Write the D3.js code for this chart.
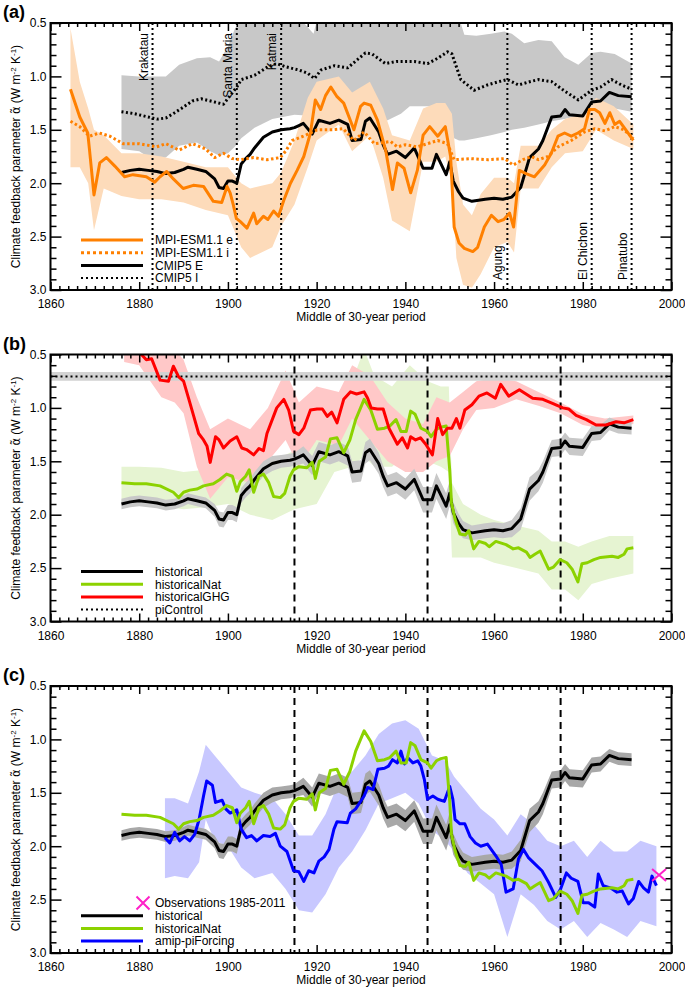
<!DOCTYPE html>
<html><head><meta charset="utf-8">
<script src="https://cdn.jsdelivr.net/npm/d3@7"></script>
<style>body{margin:0;background:#fff}svg{display:block}</style>
</head><body><svg id="c" width="685" height="989"></svg>
<script>
// ---------------- DATA ----------------
// CMIP5 E / historical (ensemble mean)
const histYears=[1876,1878,1880,1882,1884,1886,1888,1890,1891,1893,1895,1897,1898,1899,1900,1901,1902,1903,1904,1905,1906,1908,1910,1912,1914,1915,1916,1917,1919,1920.5,1923,1925,1927,1928,1930,1931,1932,1934,1935,1936,1938,1940,1942,1944,1946,1947,1949.2,1950,1950.8,1952,1953,1955,1958,1960,1962,1964,1966,1968,1970,1971,1973,1975,1976,1977,1980,1982,1984,1986,1988,1991];
const histVals=[1.90,1.88,1.87,1.88,1.89,1.91,1.90,1.87,1.85,1.87,1.89,1.96,2.04,2.05,1.98,1.98,2.00,1.82,1.77,1.73,1.67,1.57,1.52,1.50,1.49,1.48,1.46,1.44,1.54,1.41,1.44,1.41,1.45,1.60,1.59,1.42,1.39,1.52,1.64,1.73,1.70,1.76,1.67,1.86,1.86,1.73,1.92,1.80,1.98,2.08,2.14,2.17,2.15,2.14,2.15,2.13,2.04,1.76,1.68,1.60,1.38,1.37,1.31,1.36,1.37,1.24,1.23,1.15,1.18,1.19];
const histHalf=[0.05,0.05,0.05,0.05,0.05,0.05,0.05,0.05,0.05,0.05,0.05,0.06,0.07,0.07,0.07,0.07,0.07,0.07,0.07,0.07,0.07,0.07,0.07,0.06,0.06,0.06,0.07,0.08,0.09,0.09,0.09,0.09,0.09,0.1,0.1,0.1,0.1,0.1,0.1,0.1,0.1,0.1,0.1,0.12,0.12,0.12,0.12,0.12,0.1,0.09,0.08,0.07,0.07,0.07,0.07,0.08,0.1,0.11,0.1,0.1,0.08,0.08,0.08,0.08,0.08,0.07,0.07,0.06,0.06,0.06];
// CMIP5 I
const cmipIYears=[1876,1879,1882,1884,1886,1888,1889.5,1892,1894,1897,1899,1900.5,1902,1903,1906,1909,1911,1913,1916,1918,1919.5,1921,1924,1927,1929,1931,1932.5,1935.5,1938,1942,1945,1947.3,1949.5,1950.5,1952.5,1955.5,1958.5,1961,1963,1965.5,1968,1970,1973,1976,1979,1982,1984,1986.5,1988.7,1991];
const cmipIVals=[1.33,1.35,1.38,1.40,1.39,1.34,1.30,1.23,1.21,1.24,1.26,1.18,1.10,1.03,0.99,0.91,0.88,0.91,0.94,0.97,1.02,0.94,0.90,0.92,0.85,0.78,0.79,0.88,0.86,0.86,0.88,0.83,0.77,0.79,1.03,1.13,1.08,1.05,1.03,1.08,1.05,1.03,1.05,1.14,1.22,1.13,1.10,1.03,1.08,1.12];
const cmipIBandYears=[1876,1880,1883,1886,1889,1893,1896,1898,1900,1901.5,1903,1906,1910,1915,1919.3,1920.5,1925,1930,1936,1939,1941,1948,1949.5,1951,1952.1,1953.3,1956,1959.3,1962.3,1964,1966.8,1970,1973,1975.9,1979,1982,1984,1987.2,1991];
const cmipIBandTop=[0.99,1.00,1.00,1.00,0.89,0.83,0.82,0.86,0.72,0.56,0.45,0.4,0.4,0.4,0.6,0.4,0.4,0.4,0.4,0.4,0.4,0.4,0.4,0.4,0.45,0.61,0.62,0.60,0.58,0.60,0.69,0.66,0.67,0.82,0.89,0.78,0.77,0.79,0.88];
const cmipIBandBot=[1.68,1.70,1.78,1.76,1.65,1.62,1.70,1.74,1.72,1.66,1.58,1.48,1.40,1.36,1.37,1.38,1.38,1.40,1.41,1.35,1.28,1.28,1.45,1.58,1.60,1.60,1.58,1.55,1.52,1.50,1.48,1.45,1.42,1.40,1.37,1.33,1.27,1.30,1.33];
// MPI-ESM1.1 e
const mpiEYears=[1864.5,1866.6,1868.4,1868.8,1869.8,1871.1,1872.6,1874.5,1876.7,1878.6,1881.6,1883.5,1884.7,1886.2,1887.7,1889.9,1892.2,1894.5,1896.7,1898.6,1899.8,1900.5,1901.2,1901.9,1902.8,1904.3,1905.8,1906.5,1908,1909,1910.3,1911.4,1912.6,1914.1,1915.6,1917.1,1918.6,1919.7,1920.9,1922,1923.2,1924.6,1926.1,1928.4,1929.9,1930.7,1932.2,1933.7,1935.6,1937.1,1938.2,1939.7,1941.2,1942.7,1944,1945.5,1947.3,1949,1950.2,1951,1952.1,1953.3,1955.2,1956.3,1957.8,1959.4,1960.9,1962.2,1963.5,1964.4,1965.7,1967.2,1969.1,1971.4,1972.9,1974.4,1975.9,1977.4,1978.9,1980.4,1981.5,1982.7,1983.8,1985,1986.1,1987.2,1988.3,1989.5,1991.4];
const mpiEVals=[1.12,1.38,1.53,1.69,2.11,1.81,1.76,1.84,1.94,1.92,1.94,1.99,1.94,1.89,1.96,2.05,2.02,2.03,2.17,2.18,2.03,2.09,2.20,2.33,2.36,2.42,2.28,2.38,2.31,2.34,2.26,2.31,2.16,2.00,1.88,1.75,1.53,1.22,1.31,1.18,1.10,1.19,1.25,1.50,1.28,1.25,1.27,1.41,1.70,2.06,1.81,1.86,2.09,1.88,1.55,1.47,1.56,1.47,1.75,2.41,2.56,2.61,2.64,2.60,2.41,2.30,2.36,2.34,2.28,2.41,1.88,1.91,1.94,1.83,1.72,1.56,1.53,1.56,1.53,1.49,1.31,1.31,1.34,1.44,1.34,1.45,1.42,1.49,1.60];
const mpiEBandYears=[1864.5,1866.6,1868.5,1869.8,1872,1876,1880,1885,1890,1895,1900,1903,1905,1910,1912,1915,1918,1920,1925,1928,1932,1935,1937,1941,1944,1947,1949,1950.5,1951.5,1953,1955,1957,1960,1963,1964.5,1966,1970,1973,1976,1980,1983,1987,1991.4];
const mpiEBandLo=[0.55,1.05,1.30,1.50,1.55,1.72,1.72,1.75,1.80,1.85,1.85,2.0,2.05,2.0,1.9,1.6,1.2,1.05,1.0,1.15,1.05,1.3,1.55,1.6,1.3,1.25,1.25,1.35,1.8,2.2,2.3,2.1,1.95,1.95,2.0,1.65,1.65,1.5,1.4,1.35,1.2,1.28,1.45];
const mpiEBandHi=[1.85,1.85,2.0,2.44,2.05,2.12,2.15,2.15,2.18,2.25,2.3,2.6,2.7,2.6,2.4,2.2,1.85,1.6,1.45,1.7,1.55,1.95,2.35,2.45,1.8,1.8,1.75,2.0,2.7,2.95,2.98,2.85,2.6,2.55,2.65,2.05,2.05,1.85,1.72,1.7,1.5,1.6,1.68];
// MPI-ESM1.1 i
const mpiIYears=[1864.5,1866.6,1868.8,1871,1873.4,1876.4,1880,1883.9,1886,1889,1892,1895,1897,1899,1901,1902.8,1905.8,1908.8,1911.8,1913,1914.5,1917,1920.1,1923.1,1926,1928.4,1930.7,1933,1936.7,1938.2,1940,1942.7,1945,1947.3,1949.5,1951,1954.8,1958.6,1962.4,1964.3,1966.5,1968.4,1970,1972.1,1974.4,1977.4,1980.4,1982.7,1985,1987.2,1989.3,1991.4];
const mpiIVals=[1.42,1.47,1.56,1.53,1.56,1.63,1.63,1.66,1.63,1.69,1.63,1.68,1.76,1.72,1.77,1.78,1.76,1.78,1.76,1.70,1.60,1.56,1.50,1.50,1.49,1.60,1.52,1.63,1.61,1.66,1.64,1.66,1.63,1.60,1.63,1.78,1.77,1.78,1.77,1.83,1.78,1.75,1.78,1.75,1.66,1.60,1.52,1.49,1.51,1.47,1.50,1.58];
// historicalGHG
const ghgYears=[1876.6,1878.5,1880.5,1881.6,1882.8,1884.7,1886.6,1887.7,1888.9,1890,1891.2,1892.3,1893.4,1894.5,1895.3,1896,1897.2,1898,1899,1900.5,1902,1903.1,1904.2,1905.8,1907,1908,1908.8,1911,1912.6,1913.7,1914.8,1916,1917.1,1918.6,1920.1,1921.3,1922.4,1923.4,1924.6,1926.1,1927.6,1929,1930.7,1931.5,1932.3,1933.7,1935,1936.3,1938.2,1939.3,1940.5,1941.2,1942.3,1943.4,1944.6,1946.1,1947.3,1948.4,1949.5,1950.5,1951.5,1952.3,1953.4,1955,1956.6,1958.4,1960.3,1961.5,1963.3,1965.7,1968.7,1971,1973.3,1975.5,1976.8,1978.5,1980.8,1983,1985.2,1987.5,1989.3,1991.4];
const ghgVals=[0.35,0.40,0.50,0.55,0.54,0.74,0.75,0.61,0.71,0.75,0.92,1.08,1.24,1.30,1.36,1.51,1.27,1.30,1.375,1.31,1.27,1.375,1.39,1.44,1.38,1.40,1.24,1.00,0.92,1.02,1.22,1.25,1.19,1.02,1.01,1.01,1.08,1.04,1.14,0.92,0.85,0.87,0.85,0.91,1.00,1.01,1.01,1.19,1.34,1.28,1.375,1.27,1.30,1.28,1.34,1.44,1.10,1.25,1.19,1.19,1.10,1.19,1.02,0.97,0.89,0.86,0.91,0.78,0.89,0.83,0.91,0.92,0.96,1.00,1.01,1.07,1.11,1.16,1.16,1.13,1.14,1.11];
const ghgBandYears=[1876.6,1880,1885,1888,1890,1893,1896,1900,1905,1909,1913,1916,1920,1925,1928,1932,1936,1940,1944,1947,1950,1953,1956,1960,1965,1970,1975,1980,1985,1991.4];
const ghgBandLo=[0.3,0.3,0.45,0.45,0.55,0.9,1.2,1.1,1.2,1.0,0.65,0.95,0.8,0.85,0.6,0.7,0.95,1.1,1.15,0.9,0.95,0.85,0.75,0.72,0.75,0.85,0.95,1.06,1.1,1.07];
const ghgBandHi=[0.57,0.6,0.9,0.95,1.05,1.55,1.85,1.65,1.7,1.5,1.3,1.55,1.3,1.35,1.1,1.3,1.5,1.6,1.6,1.5,1.45,1.2,1.02,1.0,0.92,0.98,1.05,1.16,1.2,1.15];
// historicalNat
const natYears=[1876,1879,1881.6,1884.7,1887.7,1888.9,1890,1891.4,1893,1894.5,1896.7,1898.2,1899.7,1901,1902,1902.8,1904,1904.8,1905.8,1907,1908,1909.2,1910.3,1911.8,1912.8,1914,1914.8,1916,1917.8,1919,1919.7,1920.6,1922,1923.1,1924.6,1926.1,1927.5,1928.8,1930.7,1932.2,1933.7,1935.3,1936.5,1937.9,1939,1940.2,1941.2,1942.2,1943.5,1945,1945.8,1947,1948,1949.2,1950,1950.4,1951.2,1952.3,1953.5,1954.3,1955.4,1956.6,1958.1,1958.9,1960.4,1962.7,1964.3,1965.5,1967.3,1968.1,1969.2,1970.4,1972.3,1973.4,1974.9,1976.4,1977.6,1978.9,1979.8,1981,1982.5,1984,1986.6,1988,1989.3,1990,1991.4];
const natVals=[1.70,1.71,1.71,1.73,1.79,1.84,1.79,1.77,1.76,1.73,1.71,1.67,1.62,1.64,1.78,1.69,1.64,1.58,1.79,1.64,1.62,1.70,1.83,1.84,1.80,1.64,1.58,1.55,1.56,1.51,1.66,1.50,1.46,1.29,1.28,1.42,1.30,1.11,0.92,1.02,1.20,1.19,1.17,1.11,1.22,1.22,1.03,1.06,1.19,1.22,1.27,1.20,1.18,1.17,1.58,1.89,2.04,2.18,2.19,2.15,2.32,2.25,2.27,2.30,2.25,2.28,2.32,2.31,2.35,2.40,2.37,2.34,2.51,2.49,2.42,2.45,2.51,2.63,2.46,2.45,2.42,2.40,2.39,2.40,2.37,2.32,2.31];
const natBandYears=[1876,1880,1885,1890,1895,1900,1905,1910,1915,1920,1924,1928,1930.7,1933,1937,1941,1945,1948,1949.8,1950.5,1953,1957,1960,1965,1970,1973,1976,1979,1982,1986,1991.4];
const natBandLo=[1.55,1.55,1.56,1.6,1.58,1.5,1.45,1.5,1.4,1.3,1.05,0.75,0.45,0.7,0.8,0.6,0.75,0.8,0.8,1.7,1.9,2.0,2.05,2.1,2.15,2.25,2.25,2.3,2.25,2.2,2.2];
const natBandHi=[1.88,1.9,1.92,1.95,1.93,1.9,2.0,2.05,1.95,1.9,1.6,1.55,1.45,1.55,1.55,1.4,1.5,1.55,1.6,2.4,2.4,2.4,2.45,2.5,2.55,2.7,2.7,2.8,2.65,2.6,2.55];
// amip-piForcing
const amipYears=[1885.8,1886.9,1888,1889.1,1890.2,1891.4,1892.5,1893.5,1894.5,1895.2,1896.5,1897.2,1898.7,1899.5,1900.5,1902,1903,1904.2,1905.3,1906.5,1908,1909.5,1910.7,1911.8,1913.3,1914.8,1916,1917.1,1918.2,1919.4,1920.5,1921.7,1922.8,1923.9,1924.6,1926.9,1927.6,1928.8,1930.7,1931.5,1932.7,1933.8,1935.3,1936.2,1937.1,1938.2,1939,1939.8,1940.5,1941.7,1942.8,1943.5,1944.3,1945,1946.2,1947.3,1948.8,1950,1950.7,1951.2,1952.3,1953.4,1954.6,1955.8,1957,1958.5,1960.4,1961.6,1962.7,1964.3,1965.5,1966.6,1967.8,1969.3,1970.8,1972.3,1973.9,1975,1976.3,1977.4,1978.9,1980.1,1981.3,1982.7,1983.5,1984.6,1986.2,1987.7,1988.9,1990.3,1991.4,1992.6,1993.7,1994.8,1995.6,1996.6];
const amipVals=[1.92,1.97,1.87,1.95,1.91,1.95,1.89,1.75,1.53,1.39,1.43,1.59,1.57,1.65,1.69,1.66,1.84,1.92,1.90,1.95,1.90,1.91,1.88,2.00,2.05,2.23,2.24,2.33,2.23,2.25,2.14,2.10,2.03,1.84,1.77,1.78,1.69,1.65,1.53,1.45,1.47,1.28,1.27,1.25,1.19,1.22,1.11,1.23,1.17,1.22,1.20,1.25,1.38,1.56,1.53,1.56,1.58,1.44,1.56,1.75,1.79,1.79,1.91,1.97,2.00,1.98,2.09,2.17,2.43,2.40,2.12,2.03,2.11,2.17,2.23,2.34,2.48,2.40,2.25,2.30,2.33,2.53,2.53,2.57,2.26,2.37,2.39,2.43,2.42,2.54,2.49,2.33,2.39,2.43,2.28,2.37];
const amipBandYears=[1885.8,1888,1891,1893.5,1895,1897,1900,1903,1906,1910,1913,1916,1919,1922,1925,1928,1931,1934,1937,1940,1943,1946,1949,1951,1954,1957,1960,1963,1966,1969,1972,1975,1978,1981,1984,1987,1990,1993,1996.6];
const amipBandLo=[1.55,1.55,1.6,1.3,1.05,1.15,1.3,1.45,1.5,1.55,1.7,1.9,1.9,1.7,1.4,1.3,1.15,0.95,0.85,0.82,0.9,1.15,1.2,1.35,1.5,1.65,1.75,1.9,1.7,1.8,1.95,2.0,1.95,2.1,1.95,2.05,2.05,1.95,2.0];
const amipBandHi=[2.3,2.28,2.3,2.15,1.75,1.95,2.0,2.2,2.3,2.25,2.4,2.6,2.62,2.45,2.2,2.05,1.85,1.6,1.55,1.5,1.6,1.85,1.95,2.05,2.25,2.35,2.45,2.85,2.45,2.55,2.7,2.78,2.7,2.85,2.72,2.78,2.85,2.7,2.75];
// piControl
const piControlVal=0.705, piControlLo=0.665, piControlHi=0.745;
// observations 1985-2011
const obsPoint=[1997.2,2.27];
// volcanoes and period markers
const volcanoYears=[1883,1902,1912,1963,1982,1991];
const volcanoNames=["Krakatau","Santa Maria","Katmai","Agung","El Chichon","Pinatubo"];
const periodMarks=[1915,1945,1975];
// axis ticks
const xMajor=[1860,1880,1900,1920,1940,1960,1980,2000];
const yMajor=[0.5,1.0,1.5,2.0,2.5,3.0];

// ---------------- LAYOUT ----------------
const FONT='"Liberation Sans", Arial, Helvetica, sans-serif';
const X0=50.5, X1=671.5, PH=267;
const tops=[23,354.5,686];
const x=d3.scaleLinear().domain([1860,2000]).range([X0,X1]);
const yS=top=>d3.scaleLinear().domain([0.5,3.0]).range([top,top+PH]);
const svg=d3.select('#c').attr('font-family',FONT);
const defs=svg.append('defs');
tops.forEach((t,i)=>defs.append('clipPath').attr('id','clip'+i).append('rect').attr('x',X0).attr('y',t).attr('width',X1-X0).attr('height',PH));
const zip=(a,b)=>a.map((d,i)=>[d,b[i]]);
const zip3=(a,b,c)=>a.map((d,i)=>[d,b[i],c[i]]);

function lineG(y){return d3.line().x(d=>x(d[0])).y(d=>y(d[1]));}
function areaG(y){return d3.area().x(d=>x(d[0])).y0(d=>y(d[1])).y1(d=>y(d[2]));}

function drawLine(g,y,data,color,w,dash){
  const p=g.append('path').attr('d',lineG(y)(data)).attr('fill','none').attr('stroke',color).attr('stroke-width',w).attr('stroke-linejoin','round');
  if(dash)p.attr('stroke-dasharray',dash);
  return p;
}
function drawArea(g,y,data,color){
  g.append('path').attr('d',areaG(y)(data)).attr('fill',color).attr('stroke','none');
}
function vlines(g,y,top,years,dash,w){
  years.forEach(v=>g.append('line').attr('x1',x(v)).attr('x2',x(v)).attr('y1',top).attr('y2',top+PH).attr('stroke','#000').attr('stroke-width',w).attr('stroke-dasharray',dash));
}

function axes(top){
  const y=yS(top), bottom=top+PH;
  const xMinor=d3.range(1862,2000,2).filter(v=>v%20!==0);
  const yMinor=d3.range(6,30).filter(v=>v%5!==0).map(v=>v/10);
  const g=svg.append('g');
  const st=s=>{s.select('.domain').remove();s.attr('font-size',12).attr('font-family',FONT);s.selectAll('line').attr('stroke-width',1.5);s.selectAll('text').attr('fill','#000');};
  g.append('g').attr('transform',`translate(0,${bottom})`).call(d3.axisBottom(x).tickValues(xMajor).tickSize(-8).tickPadding(9.5).tickFormat(d3.format('d'))).call(st);
  g.append('g').attr('transform',`translate(0,${bottom})`).call(d3.axisBottom(x).tickValues(xMinor).tickSize(-4).tickFormat('')).call(st);
  g.append('g').attr('transform',`translate(0,${top})`).call(d3.axisTop(x).tickValues(xMajor).tickSize(-8).tickFormat('')).call(st);
  g.append('g').attr('transform',`translate(0,${top})`).call(d3.axisTop(x).tickValues(xMinor).tickSize(-4).tickFormat('')).call(st);
  g.append('g').attr('transform',`translate(${X0},0)`).call(d3.axisLeft(y).tickValues(yMajor).tickSize(-11).tickPadding(4).tickFormat(d3.format('.1f'))).call(st);
  g.append('g').attr('transform',`translate(${X0},0)`).call(d3.axisLeft(y).tickValues(yMinor).tickSize(-6).tickFormat('')).call(st);
  g.append('g').attr('transform',`translate(${X1},0)`).call(d3.axisRight(y).tickValues(yMajor).tickSize(-11).tickFormat('')).call(st);
  g.append('g').attr('transform',`translate(${X1},0)`).call(d3.axisRight(y).tickValues(yMinor).tickSize(-6).tickFormat('')).call(st);
  g.append('rect').attr('x',X0).attr('y',top).attr('width',X1-X0).attr('height',PH).attr('fill','none').attr('stroke','#000').attr('stroke-width',2);
  // y label
  const yl=svg.append('text').attr('transform',`translate(20,${top+PH/2}) rotate(-90)`).attr('text-anchor','middle').attr('font-size',12).attr('fill','#000');
  yl.append('tspan').text('Climate feedback parameter ');
  yl.append('tspan').attr('font-family','"DejaVu Sans", sans-serif').attr('font-size',11.5).text('α\u0303');
  yl.append('tspan').text(' (W m');
  yl.append('tspan').attr('dy',-4.5).attr('font-size',8).text('-2');
  yl.append('tspan').attr('dy',4.5).text(' K');
  yl.append('tspan').attr('dy',-4.5).attr('font-size',8).text('-1');
  yl.append('tspan').attr('dy',4.5).text(')');
  // x title
  svg.append('text').attr('x',(X0+X1)/2).attr('y',bottom+31).attr('text-anchor','middle').attr('font-size',12).text('Middle of 30-year period');
}
function panelLabel(top,s){
  svg.append('text').attr('x',3).attr('y',top-5).attr('font-size',18).attr('font-weight','bold').text(s);
}
function legend(top,items){
  items.forEach((it,i)=>{
    const yy=top+217+i*12.7;
    if(it.marker){
      svg.append('path').attr('d',`M${143-6.5},${yy-6.5}L${143+6.5},${yy+6.5}M${143-6.5},${yy+6.5}L${143+6.5},${yy-6.5}`).attr('stroke',it.color).attr('stroke-width',2).attr('fill','none');
    } else {
      const l=svg.append('line').attr('x1',81).attr('x2',143).attr('y1',yy).attr('y2',yy).attr('stroke',it.color).attr('stroke-width',it.w);
      if(it.dash)l.attr('stroke-dasharray',it.dash);
    }
    svg.append('text').attr('x',155).attr('y',yy+4.3).attr('font-size',12).text(it.label);
  });
}

const ORANGE='#ff8000', PEACH='#fddbba', GREEN='#8cd200', LGREEN='#e6f4d2', RED='#ff0000', PINK='#ffc8c8', BLUE='#0000ff', LBLUE='#c8c8ff';

// ---------------- PANEL A ----------------
{
  const top=tops[0], y=yS(top);
  const g=svg.append('g').attr('clip-path','url(#clip0)');
  drawArea(g,y,zip3(cmipIBandYears,cmipIBandTop,cmipIBandBot),'#c8c8c8');
  drawArea(g,y,zip3(mpiEBandYears,mpiEBandLo,mpiEBandHi),PEACH);
  vlines(g,y,top,volcanoYears,'2,3',2);
  drawLine(g,y,zip(cmipIYears,cmipIVals),'#000',3,'2,2.5');
  drawLine(g,y,zip(histYears,histVals),'#000',3);
  drawLine(g,y,zip(mpiIYears,mpiIVals),ORANGE,3,'2.5,2.5');
  drawLine(g,y,zip(mpiEYears,mpiEVals),ORANGE,3);
  volcanoYears.forEach((v,i)=>{
    const atTop=v<1950;
    svg.append('text').attr('transform',`translate(${x(v)-5},${atTop?top+10:top+PH-10}) rotate(-90)`)
      .attr('text-anchor',atTop?'end':'start').attr('font-size',12).text(volcanoNames[i]);
  });
  legend(top,[
    {label:'MPI-ESM1.1 e',color:ORANGE,w:3},
    {label:'MPI-ESM1.1 i',color:ORANGE,w:3,dash:'3,3'},
    {label:'CMIP5 E',color:'#000',w:3},
    {label:'CMIP5 I',color:'#000',w:2,dash:'2,3'}]);
  axes(top); panelLabel(top,'(a)');
}
// ---------------- PANEL B ----------------
{
  const top=tops[1], y=yS(top);
  const g=svg.append('g').attr('clip-path','url(#clip1)');
  drawArea(g,y,zip3(natBandYears,natBandLo,natBandHi),LGREEN);
  drawArea(g,y,zip3(ghgBandYears,ghgBandLo,ghgBandHi),PINK);
  drawArea(g,y,histYears.map((d,i)=>[d,histVals[i]-histHalf[i],histVals[i]+histHalf[i]]),'#c8c8c8');
  drawArea(g,y,[[1860,piControlLo,piControlHi],[2000,piControlLo,piControlHi]],'#d2d2d2');
  vlines(g,y,top,periodMarks,'7,5',2);
  drawLine(g,y,[[1860,piControlVal],[2000,piControlVal]],'#000',2,'2,3');
  drawLine(g,y,zip(histYears,histVals),'#000',3);
  drawLine(g,y,zip(natYears,natVals),GREEN,3);
  drawLine(g,y,zip(ghgYears,ghgVals),RED,3);
  legend(top,[
    {label:'historical',color:'#000',w:3},
    {label:'historicalNat',color:GREEN,w:3},
    {label:'historicalGHG',color:RED,w:3},
    {label:'piControl',color:'#000',w:2,dash:'2,3'}]);
  axes(top); panelLabel(top,'(b)');
}
// ---------------- PANEL C ----------------
{
  const top=tops[2], y=yS(top);
  const g=svg.append('g').attr('clip-path','url(#clip2)');
  drawArea(g,y,zip3(amipBandYears,amipBandLo,amipBandHi),LBLUE);
  drawArea(g,y,histYears.map((d,i)=>[d,histVals[i]-histHalf[i],histVals[i]+histHalf[i]]),'#a8a8a8');
  vlines(g,y,top,periodMarks,'7,5',2);
  drawLine(g,y,zip(histYears,histVals),'#000',3);
  drawLine(g,y,zip(amipYears,amipVals),BLUE,3);
  drawLine(g,y,zip(natYears,natVals),GREEN,3);
  const ox=x(obsPoint[0]), oy=y(obsPoint[1]);
  svg.append('path').attr('d',`M${ox-7},${oy-6}L${ox+7},${oy+6}M${ox-7},${oy+6}L${ox+7},${oy-6}`).attr('stroke','#ff20c8').attr('stroke-width',2).attr('fill','none');
  legend(top,[
    {label:'Observations 1985-2011',color:'#ff20c8',marker:true},
    {label:'historical',color:'#000',w:3},
    {label:'historicalNat',color:GREEN,w:3},
    {label:'amip-piForcing',color:BLUE,w:3}]);
  axes(top); panelLabel(top,'(c)');
}
</script></body></html>
